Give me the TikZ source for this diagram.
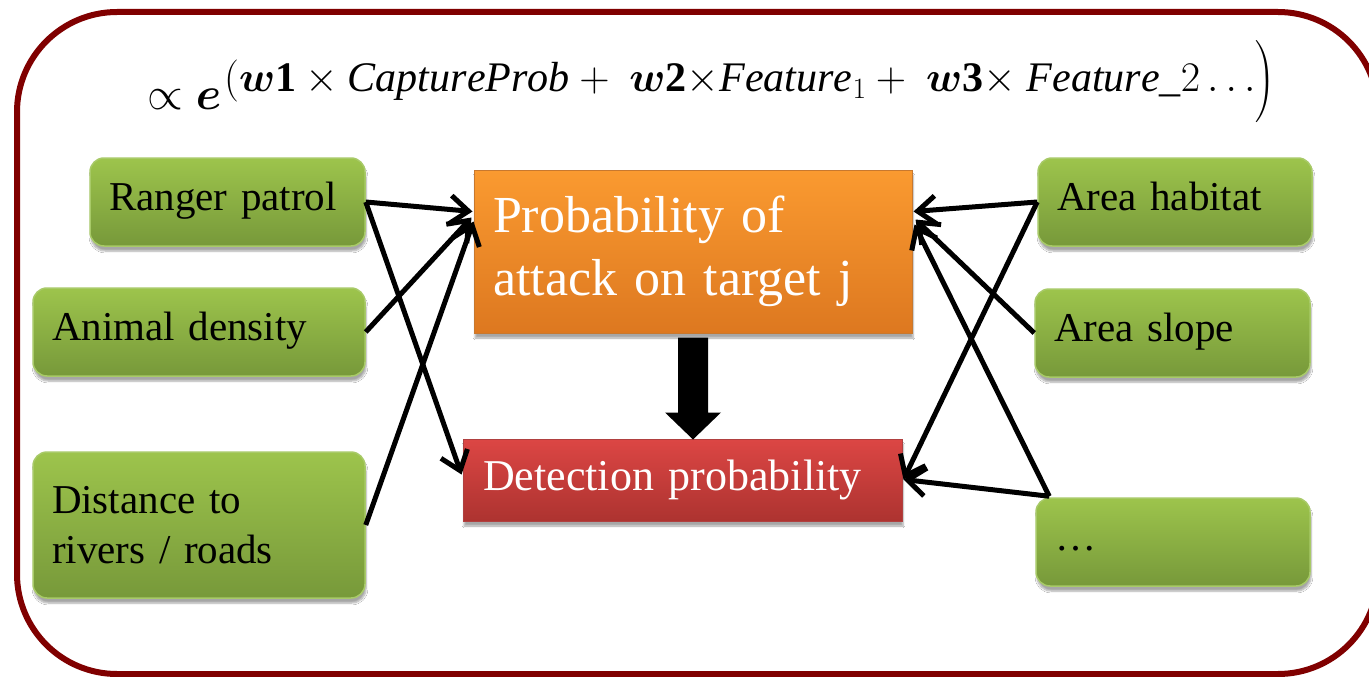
\RequirePackage{fix-cm}
\documentclass[tikz,border=0pt]{standalone}
\usepackage{amsmath}
\usepackage{graphicx}
\usepackage{fontspec}
\setmainfont{Liberation Serif}
\usetikzlibrary{arrows.meta,shadows.blur,calc}
\definecolor{gtop}{HTML}{9DC44C}
\definecolor{gbot}{HTML}{77993A}
\definecolor{gedge}{HTML}{A8CA68}
\definecolor{otop}{HTML}{FA9A30}
\definecolor{obot}{HTML}{DD7820}
\definecolor{oedge}{HTML}{C8782E}
\definecolor{rtop}{HTML}{DC4644}
\definecolor{rbot}{HTML}{AD3330}
\definecolor{redge}{HTML}{B04040}
\definecolor{framered}{HTML}{800000}
\tikzset{
  boxshadow/.style={blur shadow={shadow xshift=1pt,shadow yshift=-5pt,shadow blur steps=6,shadow opacity=35}},
  gbox/.style={boxshadow,rounded corners=14pt,top color=gtop,bottom color=gbot,draw=gedge,line width=1.5pt,
    inner xsep=19pt,inner ysep=0pt,align=left,font=\fontsize{41}{50}\selectfont,text=black},
  oneline/.style={text height=29pt,text depth=13pt},
  pbox/.style={boxshadow,top color=otop,bottom color=obot,draw=oedge,line width=1pt,
    inner xsep=19pt,inner ysep=0pt,align=left,font=\fontsize{52}{63}\selectfont,text=white},
  dbox/.style={boxshadow,top color=rtop,bottom color=rbot,draw=redge,line width=1pt,
    inner xsep=20pt,inner ysep=0pt,align=left,font=\fontsize{44}{53}\selectfont,text=white},
  conn/.style={line width=5pt,-{Straight Barb[length=18pt,width=28pt]}},
}
\begin{document}
\begin{tikzpicture}[x=1pt,y=-1pt]
\useasboundingbox (0,0) rectangle (1369,677);
\fill[white] (0,0) rectangle (1369,677);
\draw[framered,line width=6pt,rounded corners=100pt] (17,12) rectangle (1378,674);

\node[anchor=base west,inner sep=0pt] (formula) at (147,110)
 {\fontsize{46}{55}\selectfont$\propto\boldsymbol{e}$\kern3pt\raisebox{18pt}{\scalebox{0.915}{$(\boldsymbol{w}\mathbf{1}\times \mathit{CaptureProb}+\ \boldsymbol{w}\mathbf{2}{\times}\mathit{Feature}_{1}+\ \boldsymbol{w}\mathbf{3}{\times}\ \mathit{Feature}\text{\_}2\ldots\Bigr)$}}};

\node[gbox,oneline,minimum width=275pt,minimum height=88pt,text width=237pt] (rp) at (227.5,202) {Ranger patrol};
\node[gbox,oneline,minimum width=332pt,minimum height=88pt,text width=294pt] (ad) at (199,332) {Animal density};
\node[gbox,minimum width=332pt,minimum height=146pt,text width=294pt] (dr) at (199,525) {Distance to\\rivers / roads};
\node[gbox,oneline,minimum width=274pt,minimum height=88pt,text width=236pt] (ah) at (1175,202) {Area habitat};
\node[gbox,oneline,minimum width=275pt,minimum height=88pt,text width=237pt] (as) at (1172.5,333) {Area slope};
\node[gbox,oneline,minimum width=274pt,minimum height=88pt,text width=236pt] (dt) at (1173,542) {…};

\node[pbox,minimum width=438pt,minimum height=163pt,text width=400pt] (P) at (693,251.5) {Probability of\\attack on target j};
\node[dbox,minimum width=439pt,minimum height=82pt,text width=399pt] (D) at (682.5,480) {Detection probability};

\fill[black] ($(P.south)+(-15,4)$) -- ($(P.south)+(15,4)$) -- ($(P.south)+(15,79)$) -- ($(P.south)+(28,79)$)
  -- ($(P.south)+(0,106)$) -- ($(P.south)+(-28,79)$) -- ($(P.south)+(-15,79)$) -- cycle;

\draw[conn] (rp.east) -- ($(P.north west)+(-1,42)$);
\draw[conn] (rp.east) -- ($(D.north west)+(-1,36)$);
\draw[conn] (ad.east) -- ($(P.north west)+(-2,48)$);
\draw[conn] (dr.east) -- ($(P.north west)+(0,52)$);

\draw[conn] (ah.west) -- ($(P.north east)+(1,42)$);
\draw[conn] (ah.west) -- ($(D.north east)+(1,41)$);
\draw[conn] (as.west) -- ($(P.north east)+(3,50)$);
\coordinate (dtc) at ($(dt.north west)+(14,-1)$);
\draw[conn] (dtc) -- ($(P.north east)+(2,55)$);
\draw[conn] (dtc) -- ($(D.north east)+(1,41)$);
\end{tikzpicture}
\end{document}
